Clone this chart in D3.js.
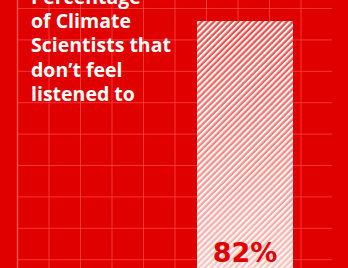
<!DOCTYPE html>
<meta charset="utf-8">
<head>
<style>
  html, body { margin: 0; padding: 0; background: #e00000; }
  svg { display: block; }
</style>
</head>
<body>
<script src="https://cdnjs.cloudflare.com/ajax/libs/d3/7.8.5/d3.min.js"></script>
<script>

// data
const categories = ["Climate scientists"];
const values = [82];
const valueLabels = ["82%"];
const titleLines = ["Percentage", "of Climate", "Scientists that", "don\u2019t feel", "listened to"];

const width = 348, height = 268;
const red = "#e00000";

const svg = d3.select("body").append("svg")
  .attr("width", width)
  .attr("height", height);

const defs = svg.append("defs");

// hatch pattern
const pat = defs.append("pattern")
  .attr("id", "hatch")
  .attr("patternUnits", "userSpaceOnUse")
  .attr("width", 4.3)
  .attr("height", 4.3)
  .attr("patternTransform", "rotate(45)");
pat.append("rect")
  .attr("width", 2.1)
  .attr("height", 4.3)
  .attr("fill", "#fff6f0");

const grad = defs.append("linearGradient")
  .attr("id", "fade")
  .attr("x1", 0).attr("y1", 0).attr("x2", 0).attr("y2", 1);
grad.append("stop").attr("offset", "0%").attr("stop-color", "#fff").attr("stop-opacity", 0.28);
grad.append("stop").attr("offset", "100%").attr("stop-color", "#fff").attr("stop-opacity", 0.78);

svg.append("rect")
  .attr("width", width).attr("height", height)
  .attr("fill", red);

// grid
const gx = d3.scaleLinear().domain([0, 10]).range([17, 332]);
const gy = d3.scaleLinear().domain([0, 8]).range([8, 259.2]);

svg.append("g")
  .call(d3.axisTop(gx).ticks(10).tickSize(-height).tickFormat(""))
  .call(g => g.select(".domain").remove())
  .call(g => g.selectAll(".tick line")
    .attr("stroke", "#ff5a5a")
    .attr("stroke-opacity", d => d === 0 ? 0.95 : 0.6)
    .attr("stroke-width", d => d === 0 ? 1.4 : 1))
  .call(g => g.selectAll(".tick").filter(d => d === 10).remove());

svg.append("g")
  .attr("transform", "translate(17,0)")
  .call(d3.axisLeft(gy).ticks(8).tickSize(-(332 - 17)).tickFormat(""))
  .call(g => g.select(".domain").remove())
  .call(g => g.selectAll(".tick line")
    .attr("stroke", "#ff5a5a")
    .attr("stroke-opacity", 0.6));

// bar
const x = d3.scaleBand().domain(categories).range([197, 293]).padding(0);
const y = d3.scaleLinear().domain([0, 100]).range([276, 276 - (276 - 21) / 0.82]);

const bars = svg.append("g");
["base", "fade", "hatch"].forEach(layer => {
  bars.selectAll("rect." + layer)
    .data(values)
    .join("rect")
    .attr("class", layer)
    .attr("x", (d, i) => x(categories[i]))
    .attr("width", x.bandwidth())
    .attr("y", d => y(d))
    .attr("height", d => y(0) - y(d))
    .attr("fill", layer === "base" ? red : "url(#" + layer + ")");
});

bars.selectAll("text")
  .data(valueLabels)
  .join("text")
  .attr("x", (d, i) => x(categories[i]) + x.bandwidth() / 2)
  .attr("y", 262)
  .attr("text-anchor", "middle")
  .attr("font-family", "'DejaVu Sans', sans-serif")
  .attr("font-weight", 700)
  .attr("font-size", 27)
  .attr("fill", red)
  .text(d => d);

// title
svg.append("g")
  .selectAll("text")
  .data(titleLines)
  .join("text")
  .attr("x", 31)
  .attr("y", (d, i) => 3.5 + i * 24.4)
  .attr("font-family", "'Open Sans', sans-serif")
  .attr("font-weight", 700)
  .attr("font-size", 19.5)
  .attr("fill", "#ffffff")
  .text(d => d);

</script>
</body>
